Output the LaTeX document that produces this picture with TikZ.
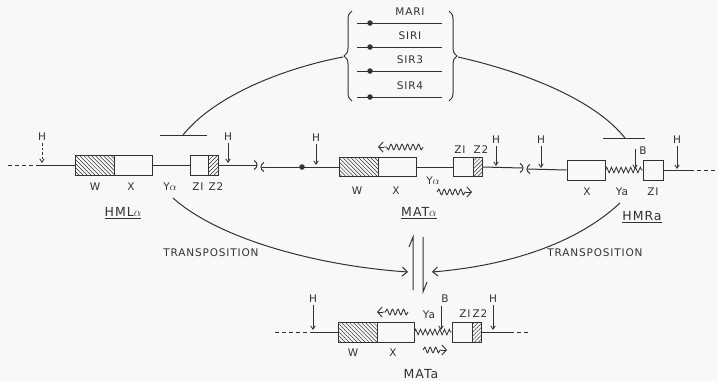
\documentclass[tikz,border=0pt]{standalone}
\usepackage{fontspec}
\setmainfont{DejaVu Sans}[LetterSpace=8]
\usetikzlibrary{arrows.meta,decorations.pathmorphing,decorations.pathreplacing,patterns.meta}
\definecolor{ink}{RGB}{50,50,50}
\definecolor{paper}{RGB}{248,248,248}
\tikzset{
  dna/.style={draw=ink, line width=1pt},
  dashdna/.style={draw=ink, line width=1pt, dash pattern=on 4pt off 3pt},
  gbox/.style={draw=ink, line width=1pt, inner sep=0pt, minimum height=20pt},
  hatchW/.style={pattern={Lines[angle=-45,distance=2.8pt,line width=0.5pt]}, pattern color=ink},
  hatchZ/.style={pattern={Lines[angle=45,distance=2.8pt,line width=0.5pt]}, pattern color=ink},
  lbl/.style={text=ink, font=\fontsize{10.5}{12}\selectfont, inner sep=0pt},
  genename/.style={text=ink, font=\fontsize{12.5}{14}\selectfont, inner sep=0pt},
  site/.style={draw=ink, line width=0.8pt, shorten <=2pt, -{Straight Barb[length=3.5pt,width=4.5pt]}},
  wavy/.style={draw=ink, line width=0.9pt, decorate, decoration={snake, amplitude=2.8pt, segment length=5.5pt}},
  wtip/.style={draw=ink, line width=0.9pt, -{Straight Barb[length=4.5pt,width=10pt]}},
  zig/.style={draw=ink, line width=0.8pt, decorate, decoration={zigzag, amplitude=2.8pt, segment length=4.8pt}},
  repcurve/.style={draw=ink, line width=1pt},
  trans/.style={draw=ink, line width=1pt, -{Straight Barb[length=5pt,width=9pt]}},
  gdot/.style={circle, fill=ink, inner sep=0pt, minimum size=5.5pt},
}
\begin{document}
\begin{tikzpicture}[x=1pt,y=-1pt]
\fill[paper] (0,0) rectangle (718,381);
\useasboundingbox (0,0) rectangle (718,381);

%% ---------------- top: MAR1 / SIR genes ----------------
\draw[dna, decorate, decoration={brace, amplitude=8pt}] (352,101) -- (352,11);
\draw[dna, decorate, decoration={brace, amplitude=8pt}] (449,11) -- (449,101);
\coordinate (braceL) at (343,57);
\coordinate (braceR) at (458,57);
\foreach \y/\t [count=\i] in {23/MARI,47/SIRI,71/SIR3,97/SIR4}{
  \coordinate (ls\i) at (357,\y);
  \coordinate (le\i) at (442,\y);
  \draw[dna] (ls\i) -- (le\i);
  \node[gdot] (d\i) at (370,\y) {};
  \node[lbl] (t\i) at (410,\y-11) {\t};
}
% repression curves
\coordinate (barL1) at (160,135); \coordinate (barL2) at (207,135);
\coordinate (barLm) at (183,135);
\coordinate (barR1) at (603,138); \coordinate (barR2) at (645,138);
\coordinate (barRm) at (625,138);
\draw[repcurve] (braceL) .. controls (285,68) and (215,95) .. (barLm);
\draw[repcurve] (barL1) -- (barL2);
\draw[repcurve] (braceR) .. controls (525,72) and (595,100) .. (barRm);
\draw[repcurve] (barR1) -- (barR2);

%% ---------------- HML alpha ----------------
\coordinate (m0) at (8,165); \coordinate (m1) at (40,165);
\node[gbox, minimum width=39pt, hatchW] (W1) at (94.5,165) {};
\node[gbox, minimum width=38pt] (X1) at (133,165) {};
\node[gbox, minimum width=18pt] (ZA1) at (199,165) {};
\node[gbox, minimum width=10pt, hatchZ] (ZB1) at (213,165) {};
\coordinate (brk1) at (256.5,165);
\draw[dashdna] (m0) -- (m1);
\draw[dna] (m1) -- (W1.west);
\draw[dna] (X1.east) -- (ZA1.west);
\draw[dna] (ZB1.east) -- (brk1);
\draw[dna] (254,160.5) .. controls (258,162.5) and (258,167.5) .. (254,169.5);
\draw[dna] (264,162.5) .. controls (260,164.5) and (260,169.5) .. (264,171.5);
% sites
\node[lbl] (H1) at (42,137) {H}; \coordinate (H1t) at (42,163);
\draw[site, dash pattern=on 2.5pt off 2pt] (H1) -- (H1t);
\node[lbl] (H2) at (228,137) {H}; \coordinate (H2t) at (228,163);
\draw[site] (H2) -- (H2t);
% labels
\node[lbl] (lW1) at (95,187) {W};
\node[lbl] (lX1) at (131,187) {X};
\node[lbl] (lY1) at (170,187) {Y$\alpha$};
\node[lbl] (lZ11) at (198,187) {ZI};
\node[lbl] (lZ21) at (216,187) {Z2};
\node[genename] (HML) at (123,213) {\underline{HML$\alpha$}};

%% ---------------- MAT alpha ----------------
\coordinate (m2) at (261.5,167);
\node[gdot] (cen) at (302,167) {};
\node[gbox, minimum width=39pt, minimum height=19pt, hatchW] (W2) at (358.5,167) {};
\node[gbox, minimum width=38pt, minimum height=19pt] (X2) at (397,167) {};
\node[gbox, minimum width=20pt, minimum height=19pt] (ZA2) at (463,167) {};
\node[gbox, minimum width=9pt, minimum height=19pt, hatchZ] (ZB2) at (477.5,167) {};
\coordinate (brk2) at (522.5,168);
\draw[dna] (m2) -- (W2.west);
\draw[dna] (X2.east) -- (ZA2.west);
\draw[dna] (ZB2.east) -- (brk2);
\draw[dna] (520,163.5) .. controls (524,165.5) and (524,170.5) .. (520,172.5);
\draw[dna] (530,164.5) .. controls (526,166.5) and (526,171.5) .. (530,173.5);
\node[lbl] (H3) at (316,138) {H}; \coordinate (H3t) at (316,165);
\draw[site] (H3) -- (H3t);
\node[lbl] (H4) at (496,140) {H}; \coordinate (H4t) at (496,166);
\draw[site] (H4) -- (H4t);
\coordinate (wv1s) at (423,147); \coordinate (wv1m) at (384,147); \coordinate (wv1e) at (378,147);
\draw[wavy] (wv1s) -- (wv1m); \draw[wtip] (wv1m) -- (wv1e);
\coordinate (wv2s) at (437,192); \coordinate (wv2m) at (466,192); \coordinate (wv2e) at (472,192);
\draw[wavy] (wv2s) -- (wv2m); \draw[wtip] (wv2m) -- (wv2e);
\node[lbl] (lW2) at (357,191) {W};
\node[lbl] (lX2) at (396,191) {X};
\node[lbl] (lY2) at (433,181) {Y$\alpha$};
\node[lbl] (lZ12) at (460,150) {ZI};
\node[lbl] (lZ22) at (481,150) {Z2};
\node[genename] (MATal) at (419,213) {\underline{MAT$\alpha$}};

%% ---------------- HMR a ----------------
\coordinate (m3) at (527.5,169);
\node[gbox, minimum width=38pt] (X3) at (586,170) {};
\node[gbox, minimum width=20pt] (ZA3) at (653,170) {};
\coordinate (m4) at (690,170); \coordinate (m5) at (718,170);
\draw[dna] (m3) -- (X3.west);
\draw[zig] (X3.east) -- (ZA3.west);
\draw[dna] (ZA3.east) -- (m4);
\draw[dashdna] (m4) -- (m5);
\node[lbl] (H5) at (541,140) {H}; \coordinate (H5t) at (541,168);
\draw[site] (H5) -- (H5t);
\node[lbl] (H6) at (677,140) {H}; \coordinate (H6t) at (677,169);
\draw[site] (H6) -- (H6t);
\node[lbl] (B1) at (643,151) {B};
\coordinate (B1s) at (635,149); \coordinate (B1t) at (635,169);
\draw[site, shorten <=0pt] (B1s) -- (B1t);
\node[lbl] (lX3) at (587,192) {X};
\node[lbl] (lY3) at (622,192) {Ya};
\node[lbl] (lZ13) at (653,192) {ZI};
\node[genename] (HMRa) at (642,217) {\underline{HMRa}};

%% ---------------- transposition ----------------
\coordinate (tL0) at (173,198); \coordinate (tL1) at (408,272);
\coordinate (tR0) at (620,203); \coordinate (tR1) at (432,272);
\draw[trans] (tL0) .. controls (220,240) and (320,266) .. (tL1);
\draw[trans] (tR0) .. controls (575,245) and (505,266) .. (tR1);
\node[lbl] (tr1) at (211,253) {TRANSPOSITION};
\node[lbl] (tr2) at (595,253) {TRANSPOSITION};
% equilibrium half arrows
\coordinate (eq1a) at (413,290); \coordinate (eq1b) at (413,237);
\coordinate (eq2a) at (423,237); \coordinate (eq2b) at (423,292);
\draw[dna] (eq1a) -- (eq1b) -- (409,247);
\draw[dna] (eq2a) -- (eq2b) -- (427,282);

%% ---------------- MAT a ----------------
\coordinate (m6) at (275,332); \coordinate (m7) at (312,332);
\node[gbox, minimum width=39pt, hatchW] (W4) at (357.5,332) {};
\node[gbox, minimum width=37pt] (X4) at (395.5,332) {};
\node[gbox, minimum width=20pt] (ZA4) at (462,332) {};
\node[gbox, minimum width=9pt, hatchZ] (ZB4) at (476.5,332) {};
\coordinate (m8) at (510,332); \coordinate (m9) at (531,332);
\draw[dashdna] (m6) -- (m7);
\draw[dna] (m7) -- (W4.west);
\draw[zig] (X4.east) -- (ZA4.west);
\draw[dna] (ZB4.east) -- (m8);
\draw[dashdna] (m8) -- (m9);
\node[lbl] (H7) at (313,299) {H}; \coordinate (H7t) at (313,330);
\draw[site] (H7) -- (H7t);
\node[lbl] (H8) at (493,299) {H}; \coordinate (H8t) at (493,330);
\draw[site] (H8) -- (H8t);
\node[lbl] (B2) at (445,299) {B};
\coordinate (B2s) at (441,306); \coordinate (B2t) at (441,330);
\draw[site, shorten <=0pt] (B2s) -- (B2t);
\coordinate (wv3s) at (408,312); \coordinate (wv3m) at (383,312); \coordinate (wv3e) at (377,312);
\draw[wavy] (wv3s) -- (wv3m); \draw[wtip] (wv3m) -- (wv3e);
\coordinate (wv4s) at (423,350); \coordinate (wv4m) at (441,350); \coordinate (wv4e) at (447,350);
\draw[wavy] (wv4s) -- (wv4m); \draw[wtip] (wv4m) -- (wv4e);
\node[lbl] (lY4) at (429,315) {Ya};
\node[lbl] (lZ14) at (465,314) {ZI};
\node[lbl] (lZ24) at (480,314) {Z2};
\node[lbl] (lW4) at (353,353) {W};
\node[lbl] (lX4) at (393,353) {X};
\node[genename] (MATa) at (421,374) {MATa};
\end{tikzpicture}
\end{document}
